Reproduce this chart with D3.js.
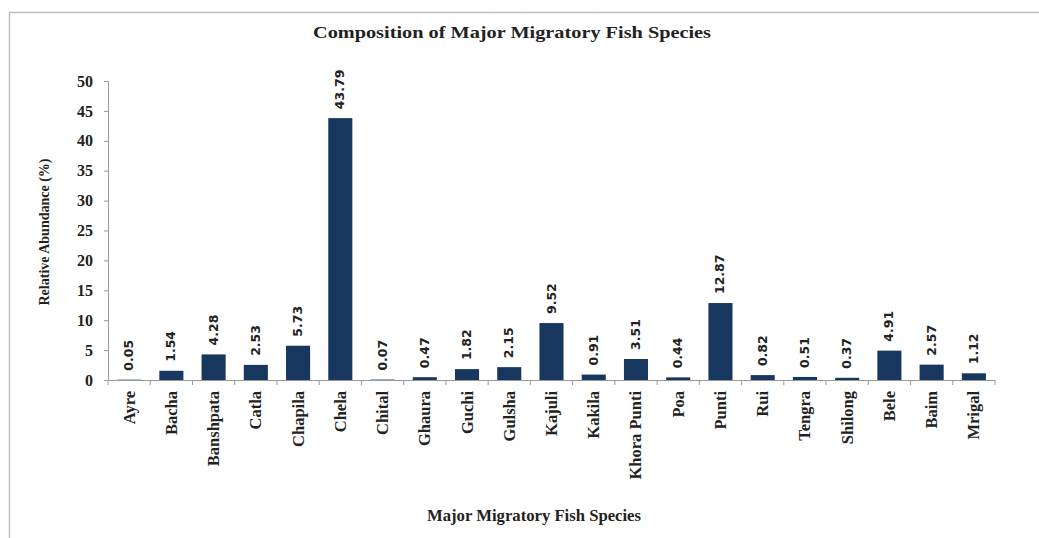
<!DOCTYPE html>
<html><head><meta charset="utf-8">
<script src="https://cdn.jsdelivr.net/npm/d3@7"></script>
<style>body{margin:0;background:#fff;} svg{display:block;}</style>
</head><body>
<svg id="chart" width="1039" height="538"></svg>
<script>
const categories = ["Ayre","Bacha","Banshpata","Catla","Chapila","Chela","Chital","Ghaura","Guchi","Gulsha","Kajuli","Kakila","Khora Punti","Poa","Punti","Rui","Tengra","Shilong","Bele","Baim","Mrigal"];
const values = [0.05,1.54,4.28,2.53,5.73,43.79,0.07,0.47,1.82,2.15,9.52,0.91,3.51,0.44,12.87,0.82,0.51,0.37,4.91,2.57,1.12];
const yTicks = [0,5,10,15,20,25,30,35,40,45,50];
const title = "Composition of Major Migratory Fish Species";
const xTitle = "Major Migratory Fish Species";
const yTitle = "Relative Abundance (%)";

const svg = d3.select("#chart");
const serif = "'Liberation Serif', 'DejaVu Serif', serif";
const sans = "'DejaVu Sans', 'Liberation Sans', sans-serif";

// outer border
svg.append("path").attr("d","M9.5,538 L9.5,12.5 L1039,12.5").attr("fill","none").attr("stroke","#bdbdbd").attr("stroke-width",1.5);

const x = d3.scaleBand().domain(categories).range([108, 995]).paddingInner(0.43).paddingOuter(0.215);
const y = d3.scaleLinear().domain([0,50]).range([380, 81]);

// bars
svg.append("g").selectAll("rect").data(categories).join("rect")
  .attr("x", d => x(d)).attr("width", x.bandwidth())
  .attr("y", (d,i) => y(values[i])).attr("height", (d,i) => y(0) - y(values[i]))
  .attr("fill","#17375e");

// y axis
const yAxis = svg.append("g").attr("transform","translate(108,0)")
  .call(d3.axisLeft(y).tickValues(yTicks).tickSize(4).tickPadding(11));
yAxis.select(".domain").attr("stroke","#999");
yAxis.selectAll(".tick line").attr("stroke","#999");
yAxis.selectAll("text").attr("font-family",serif).attr("font-weight","bold").attr("font-size",16).attr("fill","#222");

// x axis with ticks at band boundaries
const step = x.step();
const xa = svg.append("g");
xa.append("line").attr("x1",108).attr("x2",995).attr("y1",380.5).attr("y2",380.5).attr("stroke","#999");
const bounds = categories.map(d => x(d) - (step - x.bandwidth())/2).concat([995]);
xa.selectAll("line.tk").data(bounds).join("line").attr("class","tk")
  .attr("x1",d=>d).attr("x2",d=>d).attr("y1",380).attr("y2",385).attr("stroke","#999");
xa.selectAll("text").data(categories).join("text")
  .attr("transform", d => `translate(${x(d)+x.bandwidth()/2+5.5},391) rotate(-90)`)
  .attr("text-anchor","end")
  .attr("font-family",serif).attr("font-weight","bold").attr("font-size",16.5).attr("fill","#222")
  .text(d=>d);

// value labels
svg.append("g").selectAll("text").data(categories).join("text")
  .attr("transform", (d,i) => `translate(${x(d)+x.bandwidth()/2+4},${y(values[i])-9}) rotate(-90)`)
  .attr("text-anchor","start")
  .attr("font-family",sans).attr("font-weight","bold").attr("font-size",12.5).attr("fill","#222")
  .text((d,i)=>values[i].toFixed(2));

// titles
svg.append("text").attr("x",512).attr("y",38).attr("text-anchor","middle")
  .attr("font-family",serif).attr("font-weight","bold").attr("font-size",17).attr("fill","#222")
  .attr("textLength",398).attr("lengthAdjust","spacingAndGlyphs").text(title);
svg.append("text").attr("x",534).attr("y",521).attr("text-anchor","middle")
  .attr("font-family",serif).attr("font-weight","bold").attr("font-size",16).attr("fill","#222")
  .attr("textLength",214).attr("lengthAdjust","spacingAndGlyphs").text(xTitle);
svg.append("text").attr("transform","translate(49,232) rotate(-90)").attr("text-anchor","middle")
  .attr("font-family",serif).attr("font-weight","bold").attr("font-size",14).attr("fill","#222").text(yTitle);
</script>
</body></html>
